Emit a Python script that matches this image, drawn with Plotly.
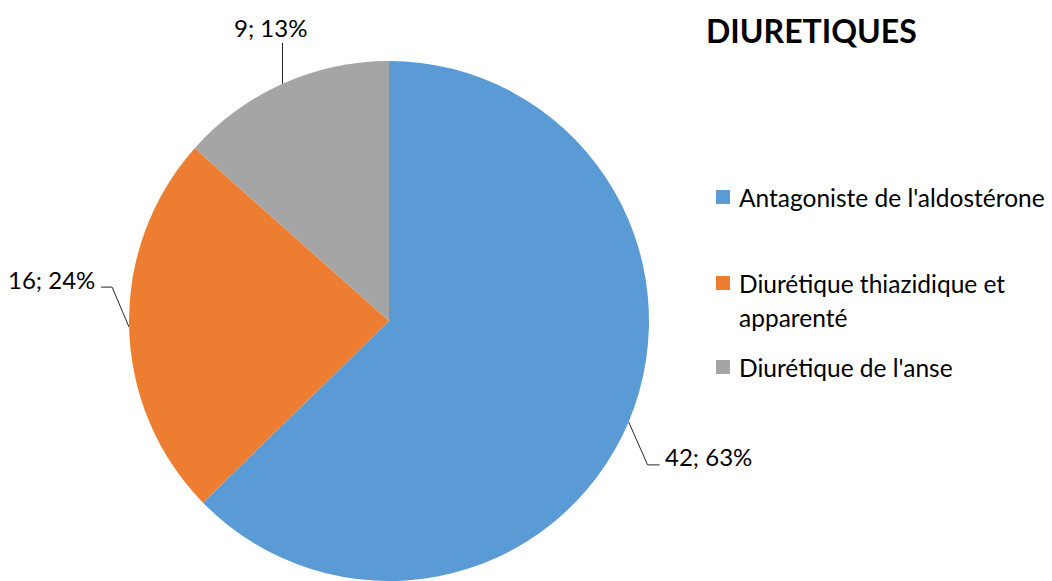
import math
import plotly.graph_objects as go

# Data
labels = ["Antagoniste de l'aldostérone", "Diurétique thiazidique et apparenté", "Diurétique de l'anse"]
legend_lines = [["Antagoniste de l'aldostérone"], ["Diurétique thiazidique et", "apparenté"], ["Diurétique de l'anse"]]
values = [42, 16, 9]
colors = ["#5B9BD5", "#ED7D31", "#A5A5A5"]
title = "DIURETIQUES"

W, H = 1052, 581
FONT = "Lato"
cx, cy, r = 389, 321, 260

fig = go.Figure()

fig.add_trace(go.Pie(
    labels=labels, values=values, sort=False, direction="clockwise", rotation=0,
    marker=dict(colors=colors, line=dict(width=0)),
    textinfo="none", hoverinfo="skip", showlegend=False,
    domain=dict(x=[(cx - r) / W, (cx + r) / W], y=[(H - cy - r) / H, (H - cy + r) / H]),
))

# leader lines + labels, computed from slice mid angles
total = sum(values)
bends = [(19, 43, 12, "left"), (-17, -40, -11, "right"), (0, -41, 0, "center")]
cum = 0
for v, (bx, by, hx, anchor) in zip(values, bends):
    mid = (cum + v / 2) / total * 2 * math.pi
    cum += v
    ex = cx + r * math.sin(mid)
    ey = cy - r * math.cos(mid)
    px, py = ex + bx, ey + by
    qx, qy = px + hx, py
    fig.add_trace(go.Scatter(x=[ex, px, qx], y=[ey, py, qy], mode="lines",
                             line=dict(color="#262626", width=1), hoverinfo="skip",
                             showlegend=False))
    txt = f"{v}; {round(v / total * 100)}%"
    if anchor == "left":
        fig.add_annotation(x=qx + 3, y=qy - 8, text=txt, xanchor="left", yanchor="middle",
                           showarrow=False, font=dict(size=24))
    elif anchor == "right":
        fig.add_annotation(x=qx - 4, y=qy - 8, text=txt, xanchor="right", yanchor="middle",
                           showarrow=False, font=dict(size=24))
    else:
        fig.add_annotation(x=qx - 12, y=qy - 15, text=txt, xanchor="center", yanchor="middle",
                           showarrow=False, font=dict(size=24))

# manual legend
leg_y = [197, 283, 367]
fig.add_trace(go.Scatter(x=[723] * 3, y=leg_y, mode="markers",
                         marker=dict(symbol="square", size=14, color=colors),
                         hoverinfo="skip", showlegend=False))
for lines, y in zip(legend_lines, leg_y):
    for i, line in enumerate(lines):
        fig.add_annotation(x=737, y=y + i * 34, text=line, xanchor="left", yanchor="middle",
                           showarrow=False, font=dict(size=24.5))

fig.add_annotation(x=704, y=30, text=f"<b>{title}</b>", xanchor="left", yanchor="middle",
                   showarrow=False, font=dict(size=32))

fig.update_annotations(font_family=FONT, font_color="#000000")

fig.update_layout(
    width=W, height=H, autosize=False,
    margin=dict(l=0, r=0, t=0, b=0),
    paper_bgcolor="white", plot_bgcolor="white",
    font=dict(family=FONT, size=24, color="#000000"),
    xaxis=dict(range=[0, W], visible=False, fixedrange=True),
    yaxis=dict(range=[H, 0], visible=False, fixedrange=True),
)

# drop the default 8px page margin so the figure sits at the window corner
fig.write_html("out.html", config={"displayModeBar": False},
               post_script="document.body.style.margin='0';")
